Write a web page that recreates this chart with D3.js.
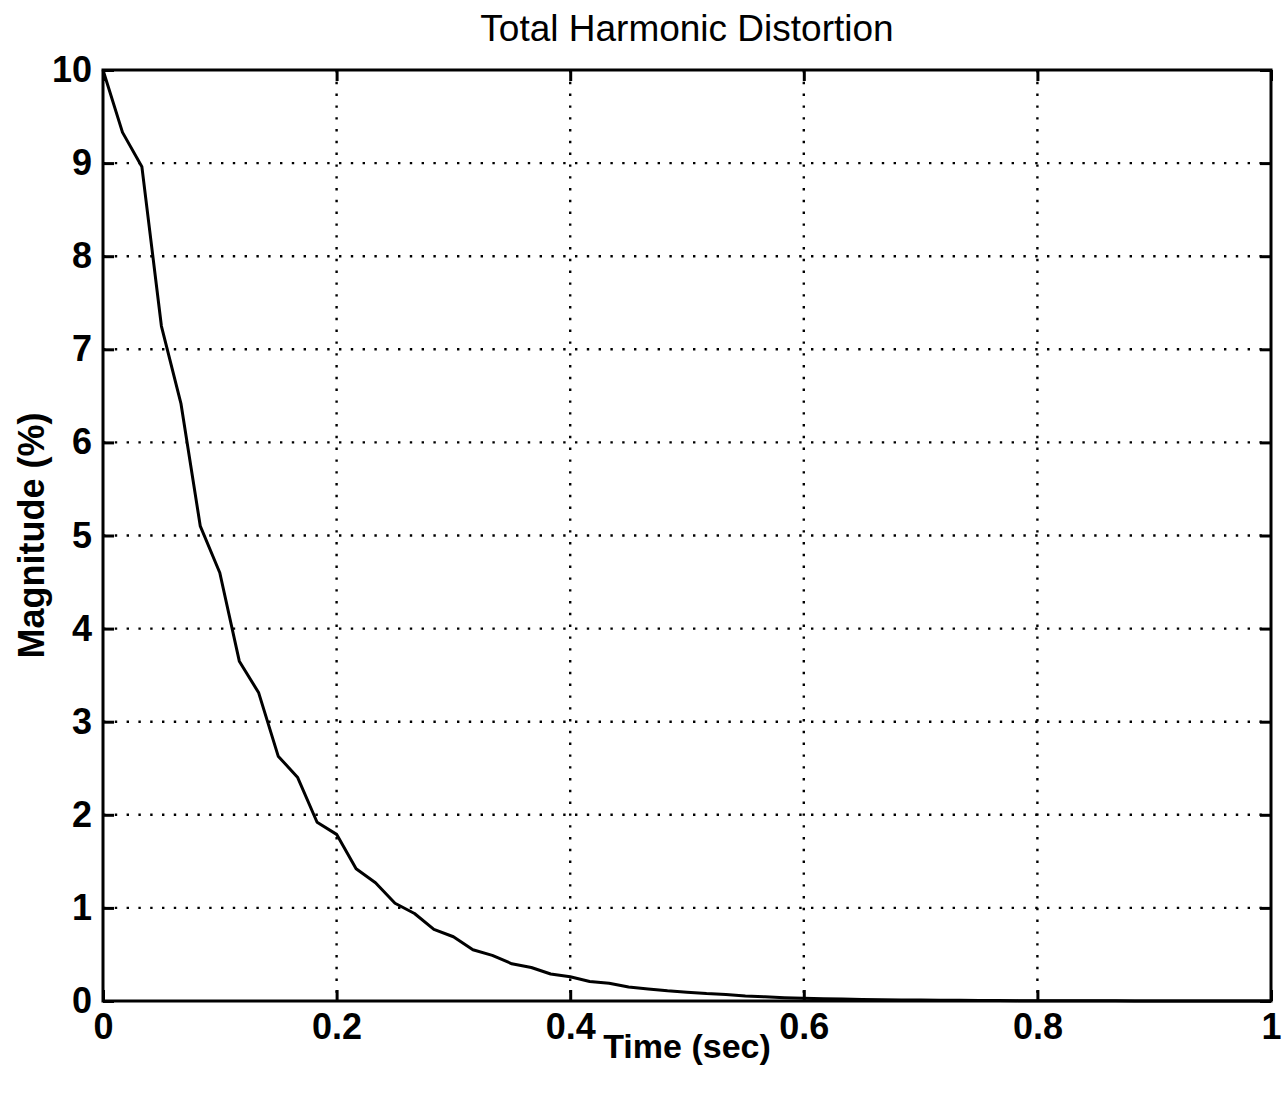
<!DOCTYPE html>
<html>
<head>
<meta charset="utf-8">
<script src="https://cdn.jsdelivr.net/npm/d3@7"></script>
<style>
  html, body { margin: 0; padding: 0; background: #fff; }
  svg { display: block; }
  text { font-family: "Liberation Sans", Arial, Helvetica, sans-serif; fill: #000; }
</style>
</head>
<body>
<svg id="chart" width="1285" height="1094"></svg>
<script>
// ---- data ----
const chartTitle = "Total Harmonic Distortion";
const xLabel = "Time (sec)";
const yLabel = "Magnitude (%)";
const xTicks = [0, 0.2, 0.4, 0.6, 0.8, 1];
const xTickLabels = ["0", "0.2", "0.4", "0.6", "0.8", "1"];
const yTicks = [0, 1, 2, 3, 4, 5, 6, 7, 8, 9, 10];
const yTickLabels = ["0", "1", "2", "3", "4", "5", "6", "7", "8", "9", "10"];
// sample times (sec), step 1/60
const timeSec = [
  0.0000, 0.0167, 0.0333, 0.0500, 0.0667, 0.0833, 0.1000, 0.1167, 0.1333, 0.1500,
  0.1667, 0.1833, 0.2000, 0.2167, 0.2333, 0.2500, 0.2667, 0.2833, 0.3000, 0.3167,
  0.3333, 0.3500, 0.3667, 0.3833, 0.4000, 0.4167, 0.4333, 0.4500, 0.4667, 0.4833,
  0.5000, 0.5167, 0.5333, 0.5500, 0.5667, 0.5833, 0.6000, 0.6167, 0.6333, 0.6500,
  0.6667, 0.6833, 0.7000, 0.7167, 0.7333, 0.7500, 0.7667, 0.7833, 0.8000, 0.8167,
  0.8333, 0.8500, 0.8667, 0.8833, 0.9000, 0.9167, 0.9333, 0.9500, 0.9667, 0.9833,
  1.0000
];
// THD magnitude (%)
const thdPercent = [
  10.00, 9.33, 8.96, 7.25, 6.42, 5.10, 4.60, 3.65, 3.31, 2.63,
  2.40, 1.92, 1.79, 1.42, 1.27, 1.05, 0.94, 0.77, 0.69, 0.55,
  0.49, 0.40, 0.36, 0.29, 0.26, 0.21, 0.19, 0.15, 0.13, 0.11,
  0.095, 0.080, 0.070, 0.055, 0.045, 0.036, 0.030, 0.025, 0.021, 0.017,
  0.014, 0.012, 0.010, 0.008, 0.007, 0.006, 0.005, 0.004, 0.003, 0.003,
  0.002, 0.002, 0.002, 0.001, 0.001, 0.001, 0.001, 0.001, 0.000, 0.000,
  0.000
];

// ---- layout ----
const svg = d3.select("#chart");
const L = 103, R = 1271, T = 70, B = 1001;

const x = d3.scaleLinear().domain([0, 1]).range([L, R]);
const y = d3.scaleLinear().domain([0, 10]).range([B, T]);

// grid
const grid = svg.append("g").attr("stroke", "#000").attr("stroke-width", 2.4)
  .attr("stroke-dasharray", "2.4 9.4").attr("fill", "none");
grid.selectAll("line.gx").data(xTicks.slice(1, -1)).join("line")
  .attr("x1", d => x(d)).attr("x2", d => x(d)).attr("y1", T).attr("y2", B);
grid.selectAll("line.gy").data(yTicks.slice(1, -1)).join("line")
  .attr("y1", d => y(d)).attr("y2", d => y(d)).attr("x1", L).attr("x2", R);

// axes with inward ticks
const tickLen = 11;
const axB = d3.axisBottom(x).tickValues(xTicks).tickFormat((d, i) => xTickLabels[i])
  .tickSizeInner(-tickLen).tickSizeOuter(0).tickPadding(12);
const axT = d3.axisTop(x).tickValues(xTicks).tickFormat("").tickSizeInner(-tickLen).tickSizeOuter(0);
const axL = d3.axisLeft(y).tickValues(yTicks).tickFormat((d, i) => yTickLabels[i])
  .tickSizeInner(-tickLen).tickSizeOuter(0).tickPadding(11);
const axR = d3.axisRight(y).tickValues(yTicks).tickFormat("").tickSizeInner(-tickLen).tickSizeOuter(0);

function style(g) {
  g.select(".domain").remove();
  g.selectAll(".tick line").attr("stroke", "#000").attr("stroke-width", 3);
  g.selectAll(".tick text").attr("font-size", 36).attr("font-weight", "bold")
    .attr("font-family", "'Liberation Sans', Arial, sans-serif").attr("fill", "#000");
}
svg.append("g").attr("transform", `translate(0,${B})`).call(axB).call(style);
svg.append("g").attr("transform", `translate(0,${T})`).call(axT).call(style);
svg.append("g").attr("transform", `translate(${L},0)`).call(axL).call(style);
svg.append("g").attr("transform", `translate(${R},0)`).call(axR).call(style);

// frame
svg.append("rect").attr("x", L).attr("y", T).attr("width", R - L).attr("height", B - T)
  .attr("fill", "none").attr("stroke", "#000").attr("stroke-width", 3);

// data line
const line = d3.line().x((d, i) => x(timeSec[i])).y(d => y(d));
svg.append("path").datum(thdPercent).attr("d", line)
  .attr("fill", "none").attr("stroke", "#000").attr("stroke-width", 3)
  .attr("stroke-linejoin", "round");

// title and labels
svg.append("text").attr("x", (L + R) / 2).attr("y", 41).attr("text-anchor", "middle")
  .attr("font-size", 37).text(chartTitle);
svg.append("text").attr("x", (L + R) / 2).attr("y", 1058).attr("text-anchor", "middle")
  .attr("font-size", 34).attr("font-weight", "bold").text(xLabel);
svg.append("text").attr("transform", `translate(44,${(T + B) / 2}) rotate(-90)`)
  .attr("text-anchor", "middle").attr("font-size", 36).attr("font-weight", "bold").text(yLabel);
</script>
</body>
</html>
